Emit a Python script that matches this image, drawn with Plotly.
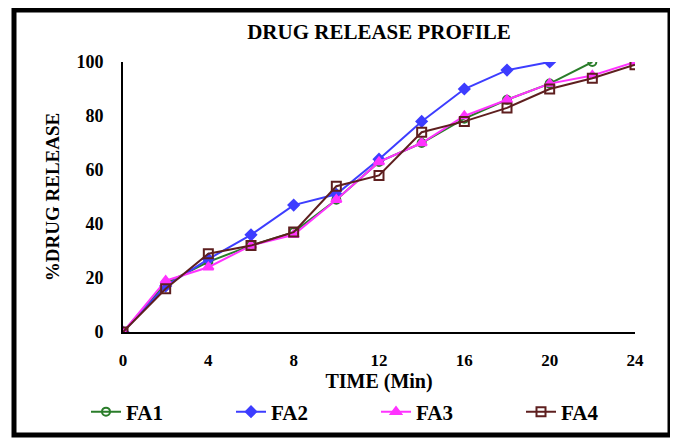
import plotly.graph_objects as go

time_min = [0, 2, 4, 6, 8, 10, 12, 14, 16, 18, 20, 22, 24]
fa1 = [0, 18, 26, 32, 37, 49, 63, 70, 79, 86, 92, 100]
fa2 = [0, 17, 27, 36, 47, 51, 64, 78, 90, 97, 100]
fa3 = [0, 19, 24, 32, 36, 49, 63, 70, 80, 86, 92, 95, 100]
fa4 = [0, 16, 29, 32, 37, 54, 58, 74, 78, 83, 90, 94, 99]

x_ticks = [0, 4, 8, 12, 16, 20, 24]
y_ticks = [0, 20, 40, 60, 80, 100]

FF = "Liberation Serif"


def bold_font(size):
    return dict(family=FF, size=size, color="black", weight="bold")


fig = go.Figure()
series = [
    ("FA1", fa1, "#2a7d2a", "circle-open", 8),
    ("FA2", fa2, "#3d3dff", "diamond", 8),
    ("FA3", fa3, "#ff33ff", "triangle-up", 9),
    ("FA4", fa4, "#5e1f1f", "square-open", 9),
]
for name, vals, color, sym, size in series:
    fig.add_trace(go.Scatter(
        x=time_min[:len(vals)], y=vals, name=name, mode="lines+markers",
        line=dict(color=color, width=2),
        marker=dict(symbol=sym, size=size, color=color,
                    line=dict(color=color, width=2)),
    ))

# the page body has an 8px margin, so the figure is drawn 8px smaller
W, H = 670, 431
fig.update_layout(
    width=W, height=H,
    margin=dict(l=115, r=43, t=54, b=107, autoexpand=False),
    paper_bgcolor="white", plot_bgcolor="white",
    font=bold_font(17),
    title=dict(text="DRUG RELEASE PROFILE", x=0.5, xanchor="center",
               xref="paper",
               y=1 - 24 / H, yanchor="middle",
               font=bold_font(21)),
    showlegend=True,
    legend=dict(orientation="h", x=(86 - 123) / 512, xanchor="left",
                y=(332 - 412) / 270, yanchor="middle",
                entrywidth=100, entrywidthmode="pixels",
                bgcolor="rgba(0,0,0,0)",
                font=bold_font(21),
                itemwidth=30, tracegroupgap=0),
    shapes=[dict(type="rect", xref="paper", yref="paper",
                 x0=(14 - 123) / 512, x1=(670 - 123) / 512,
                 y0=(332 - 435) / 270, y1=(332 - 10) / 270,
                 line=dict(color="black", width=5), layer="above")],
)

fig.update_xaxes(
    range=[0, 24], tickvals=x_ticks, showgrid=False, zeroline=False,
    showline=True, linecolor="black", linewidth=2, ticks="",
    ticklabelstandoff=12, automargin=False,
    tickfont=bold_font(17),
    title=dict(text="TIME (Min)", standoff=2, font=bold_font(20)),
)
fig.update_yaxes(
    range=[0, 100], tickvals=y_ticks, showgrid=False, zeroline=False,
    showline=True, linecolor="black", linewidth=2, ticks="",
    ticklabelstandoff=14, automargin=False,
    tickfont=bold_font(18),
    title=dict(text="%DRUG RELEASE", standoff=12, font=bold_font(19)),
)

fig.write_html("out.html")
